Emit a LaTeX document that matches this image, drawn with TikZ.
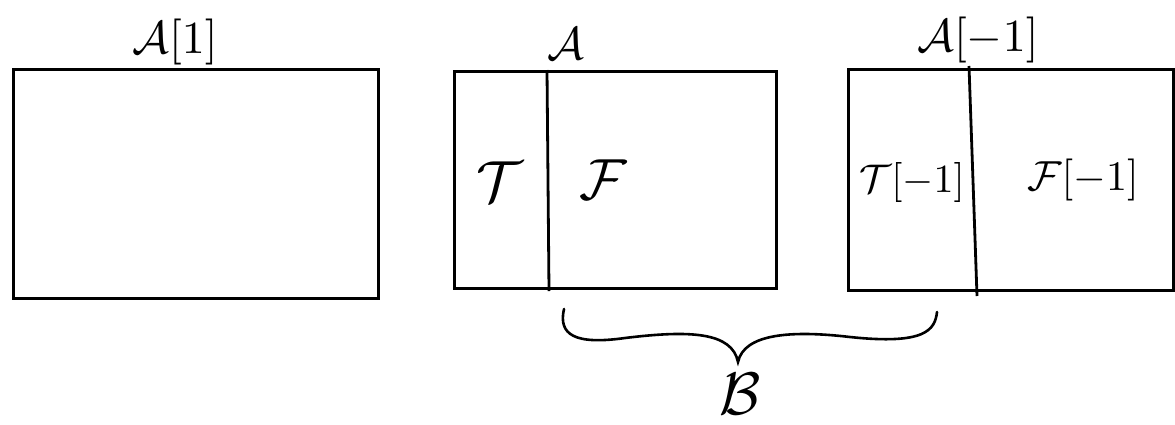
\documentclass[tikz,border=0pt]{standalone}
\usepackage{graphicx}
\usepackage{amsmath}
\newcommand{\biglab}[2]{\scalebox{#1}{$#2$}}
\begin{document}
\begin{tikzpicture}[x=1pt,y=-1pt,
  box/.style={draw, line width=3pt, rectangle, inner sep=0pt, anchor=north west},
  divider/.style={line width=2.8pt},
  lab/.style={inner sep=0pt},
  bracepath/.style={line width=2.6pt, line cap=round}]
\useasboundingbox (0,0) rectangle (1175,424);
% boxes
\node[box, minimum width=365pt, minimum height=229pt] (A1) at (12,68) {};
\node[box, minimum width=322pt, minimum height=217pt] (A0) at (453,70) {};
\node[box, minimum width=325pt, minimum height=221pt] (Am) at (847,68) {};
% dividers
\draw[divider] (547,70) -- (549,291);
\draw[divider] (969,66) -- (977,296);
% top labels
\node[lab] (lA1) at (175,42) {\biglab{4.6}{\mathcal{A}[1]}};
\node[lab] (lA0) at (566,44) {\biglab{4.6}{\mathcal{A}}};
\node[lab] (lAm) at (978,40) {\biglab{4.6}{\mathcal{A}[-1]}};
% inner labels
\node[lab] (T) at (500,182) {\biglab{5.8}{\mathcal{T}}};
\node[lab] (F) at (603,180) {\biglab{5.8}{\mathcal{F}}};
\node[lab] (Tm) at (912,182) {\biglab{4.0}{\mathcal{T}[-1]}};
\node[lab] (Fm) at (1083,180) {\biglab{4.2}{\mathcal{F}[-1]}};
% brace
\coordinate (bl) at (564,309);
\coordinate (bt) at (738,362);
\coordinate (br) at (937,312);
\draw[bracepath] (bl) .. controls (558,335) and (575,345) .. (625,338)
  .. controls (690,330) and (732,332) .. (bt)
  .. controls (744,334) and (790,330) .. (850,337)
  .. controls (925,345) and (935,330) .. (br);
\node[lab] (B) at (740,394) {\biglab{6}{\mathcal{B}}};
\end{tikzpicture}
\end{document}
